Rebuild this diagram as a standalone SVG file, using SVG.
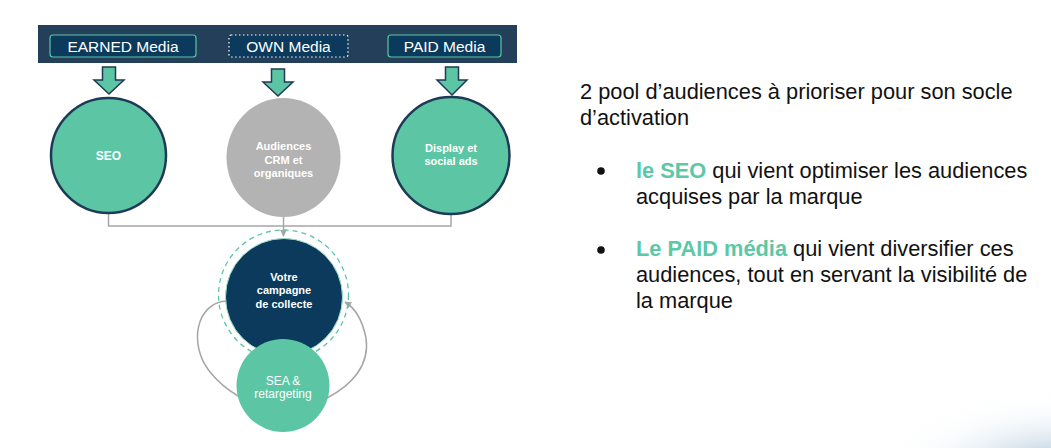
<svg xmlns="http://www.w3.org/2000/svg" width="1051" height="448" viewBox="0 0 1051 448">
<defs>
<style>
.lbl{font-family:"Liberation Sans",Arial,sans-serif;font-size:15.5px;fill:#ffffff}
.ctext{font-family:"Liberation Sans",Arial,sans-serif;font-size:11px;font-weight:bold;fill:#ffffff;text-anchor:middle}
.ctext2{font-family:"Liberation Sans",Arial,sans-serif;font-size:12px;fill:#ffffff;text-anchor:middle}
.body{font-family:"Liberation Sans",Arial,sans-serif;font-size:21.8px;fill:#111111}
.hl{fill:#5cc8a6;font-weight:bold}
.tealc{fill:#5cc6a4;stroke:#1e3a56;stroke-width:2.5}
.barrow{fill:#5cc6a4;stroke:#1e3a56;stroke-width:1.5}
.conn{fill:none;stroke:#a6a6a6;stroke-width:1.5}
</style>
<marker id="ah" viewBox="0 0 10 10" refX="9" refY="5" markerWidth="7" markerHeight="7" orient="auto-start-reverse" markerUnits="userSpaceOnUse">
<path d="M0,0 L10,5 L0,10 z" fill="#a6a6a6"/>
</marker>
<radialGradient id="blob" cx="0.5" cy="0.5" r="0.5">
<stop offset="0" stop-color="#6fd3b5" stop-opacity="0.9"/>
<stop offset="0.3" stop-color="#9cbcd3" stop-opacity="0.55"/>
<stop offset="0.7" stop-color="#dfeaf2" stop-opacity="0.2"/>
<stop offset="1" stop-color="#ffffff" stop-opacity="0"/>
</radialGradient>
</defs>
<rect width="1051" height="448" fill="#ffffff"/>
<ellipse cx="1060" cy="478" rx="190" ry="90" fill="url(#blob)"/>

<g id="banner">
<rect x="38" y="25" width="479" height="38" fill="#243f5a"/>
</g>
<g id="earned">
<rect x="50" y="35" width="146" height="22" rx="3" fill="#0b3a5c" stroke="#5cc6a4" stroke-width="1.2"/>
<text class="lbl" x="123" y="51.5" text-anchor="middle">EARNED Media</text>
</g>
<g id="own">
<rect x="229" y="35" width="119" height="22" rx="2" fill="#0b3a5c" stroke="#ffffff" stroke-width="1.2" stroke-dasharray="1.5 2.5"/>
<text class="lbl" x="288.5" y="51.5" text-anchor="middle">OWN Media</text>
</g>
<g id="paid">
<rect x="388" y="35" width="113" height="22" rx="3" fill="#0b3a5c" stroke="#5cc6a4" stroke-width="1.2"/>
<text class="lbl" x="444.5" y="51.5" text-anchor="middle">PAID Media</text>
</g>

<g id="block-arrows">
<path class="barrow" d="M102.5,67 H115.5 V80 H124 L109,94 L94,80 H102.5 Z"/>
<path class="barrow" d="M271.5,69 H284.5 V82 H293 L278,96 L263,82 H271.5 Z"/>
<path class="barrow" d="M445.5,67 H458.5 V80 H467 L452,95 L437,80 H445.5 Z"/>
</g>

<g id="connectors">
<path class="conn" d="M108.5,214 V226 H451 V214"/>
<path class="conn" d="M283.5,217 V236" marker-end="url(#ah)"/>
<path class="conn" d="M226,301 C196,303 188,345 210,372 C218,382 228,390 238,396"/>
<path class="conn" d="M327,398 C352,385 370,365 366,338 C362,318 355,308 345,302" marker-end="url(#ah)"/>
</g>

<g id="seo">
<circle class="tealc" cx="108.5" cy="155.5" r="57.5"/>
<text class="ctext" x="108.5" y="160" style="font-size:12px">SEO</text>
</g>
<g id="crm">
<ellipse cx="283.5" cy="157.5" rx="57" ry="59.5" fill="#b3b3b3"/>
<text class="ctext" x="283.5" y="150">Audiences</text>
<text class="ctext" x="283.5" y="163.5">CRM et</text>
<text class="ctext" x="283.5" y="177">organiques</text>
</g>
<g id="display">
<circle class="tealc" cx="451" cy="155.5" r="58.5"/>
<text class="ctext" x="451" y="152">Display et</text>
<text class="ctext" x="451" y="165">social ads</text>
</g>

<g id="campagne">
<circle cx="283.5" cy="295" r="65" fill="none" stroke="#5cc6a4" stroke-width="1.3" stroke-dasharray="5 4"/>
<circle cx="284" cy="297" r="58.5" fill="#0b3a5c" stroke="#9ee3cc" stroke-width="1"/>
<text class="ctext" x="284" y="280.5">Votre</text>
<text class="ctext" x="284" y="294">campagne</text>
<text class="ctext" x="284" y="307.5">de collecte</text>
</g>
<g id="sea">
<circle cx="283" cy="385.5" r="46.5" fill="#5cc6a4"/>
<text class="ctext2" x="283" y="385">SEA &amp;</text>
<text class="ctext2" x="283" y="398">retargeting</text>
</g>

<g id="texte">
<text class="body" x="580" y="99">2 pool d’audiences à prioriser pour son socle</text>
<text class="body" x="580" y="125">d’activation</text>
<circle cx="601" cy="171" r="3.8" fill="#111111"/>
<text class="body" x="636" y="178"><tspan class="hl">le SEO</tspan> qui vient optimiser les audiences</text>
<text class="body" x="636" y="204">acquises par la marque</text>
<circle cx="601" cy="250" r="3.8" fill="#111111"/>
<text class="body" x="636" y="256"><tspan class="hl">Le PAID média</tspan> qui vient diversifier ces</text>
<text class="body" x="636" y="282">audiences, tout en servant la visibilité de</text>
<text class="body" x="636" y="308">la marque</text>
</g>
</svg>
